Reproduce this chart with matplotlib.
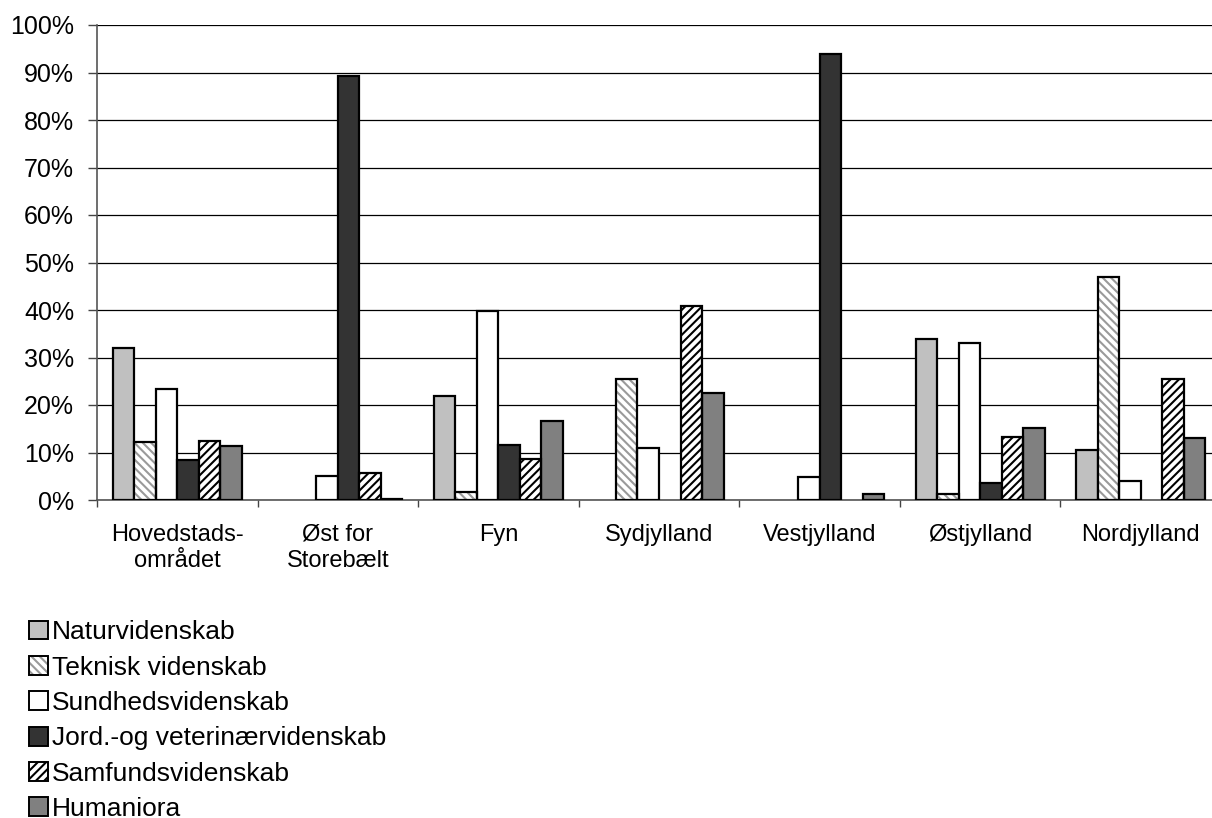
import matplotlib
matplotlib.use("Agg")
import matplotlib.pyplot as plt
import numpy as np
from matplotlib.patches import Patch
from matplotlib.legend_handler import HandlerTuple

plt.rcParams['font.family'] = ['Liberation Sans', 'DejaVu Sans']
plt.rcParams['hatch.linewidth'] = 1.5

categories = ["Hovedstads-\nområdet", "Øst for\nStorebælt", "Fyn", "Sydjylland",
              "Vestjylland", "Østjylland", "Nordjylland"]
series_names = ["Naturvidenskab", "Teknisk videnskab", "Sundhedsvidenskab",
                "Jord.-og veterinærvidenskab", "Samfundsvidenskab", "Humaniora"]
naturvidenskab = [32.0, 0.0, 21.9, 0.0, 0.0, 34.0, 10.5]
teknisk = [12.3, 0.0, 1.6, 25.4, 0.0, 1.2, 46.9]
sundhed = [23.4, 5.0, 39.8, 11.0, 4.9, 33.0, 4.0]
jord = [8.4, 89.2, 11.5, 0.0, 94.0, 3.5, 0.0]
samfund = [12.4, 5.6, 8.7, 40.9, 0.0, 13.3, 25.5]
humaniora = [11.4, 0.2, 16.6, 22.5, 1.3, 15.2, 13.1]
yticks = [0, 10, 20, 30, 40, 50, 60, 70, 80, 90, 100]
ytick_labels = [f"{v}%" for v in yticks]

series = [naturvidenskab, teknisk, sundhed, jord, samfund, humaniora]
styles = [
    dict(fc="#C0C0C0", hatch=None, hc=None),
    dict(fc="white", hatch="\\\\\\\\", hc="#9A9A9A"),
    dict(fc="white", hatch=None, hc=None),
    dict(fc="#333333", hatch=None, hc=None),
    dict(fc="white", hatch="////", hc="#000000"),
    dict(fc="#808080", hatch=None, hc=None),
]

fig = plt.figure(figsize=(12.12, 8.18), dpi=100)
ax = fig.add_axes([97 / 1212, 318 / 818, (1221 - 97) / 1212, 475 / 818])

x = np.arange(len(categories))
w = 0.134
handles = []
for i, (vals, st) in enumerate(zip(series, styles)):
    vals = np.array(vals, dtype=float)
    keep = vals > 0
    pos = (x + (i - 2.5) * w)[keep]
    v = vals[keep]
    if st["hatch"]:
        ax.bar(pos, v, w, color=st["fc"], edgecolor=st["hc"], hatch=st["hatch"],
               linewidth=0, zorder=3)
        ax.bar(pos, v, w, facecolor="none", edgecolor="black", linewidth=1.6, zorder=4)
        h = (Patch(facecolor=st["fc"], edgecolor=st["hc"], hatch=st["hatch"], linewidth=0),
             Patch(facecolor="none", edgecolor="black", linewidth=1.4))
    else:
        ax.bar(pos, v, w, color=st["fc"], edgecolor="black", linewidth=1.6, zorder=3)
        h = Patch(facecolor=st["fc"], edgecolor="black", linewidth=1.4)
    handles.append(h)

ax.set_xlim(-0.5, len(categories) - 0.5)
ax.set_ylim(0, 100)
ax.set_yticks(yticks)
ax.set_yticklabels(ytick_labels, fontsize=18)
ax.set_xticks(x)
ax.set_xticklabels(categories, fontsize=17, linespacing=1.28)
ax.tick_params(axis='x', which='major', length=0, pad=17)
ax.set_xticks(np.arange(-0.5, len(categories) + 0.5, 1), minor=True)
ax.tick_params(axis='x', which='minor', length=5, color="#444444", width=1)
ax.tick_params(axis='y', length=6.5, color="#444444", width=1, pad=10)
ax.grid(axis='y', color="black", linewidth=0.9, zorder=0)
ax.set_axisbelow(True)
for s in ["top", "right"]:
    ax.spines[s].set_visible(False)
for s in ["left", "bottom"]:
    ax.spines[s].set_color("#555555")
    ax.spines[s].set_linewidth(1.2)

fig.legend(handles, series_names, loc="upper left", bbox_to_anchor=(29 / 1212, 0.2417),
           frameon=False, fontsize=19, handlelength=0.72, handleheight=0.72,
           handletextpad=0.15, labelspacing=0.43, borderaxespad=0, borderpad=0,
           handler_map={tuple: HandlerTuple(ndivide=1, pad=0)})

fig.savefig("out.png", dpi=100)
